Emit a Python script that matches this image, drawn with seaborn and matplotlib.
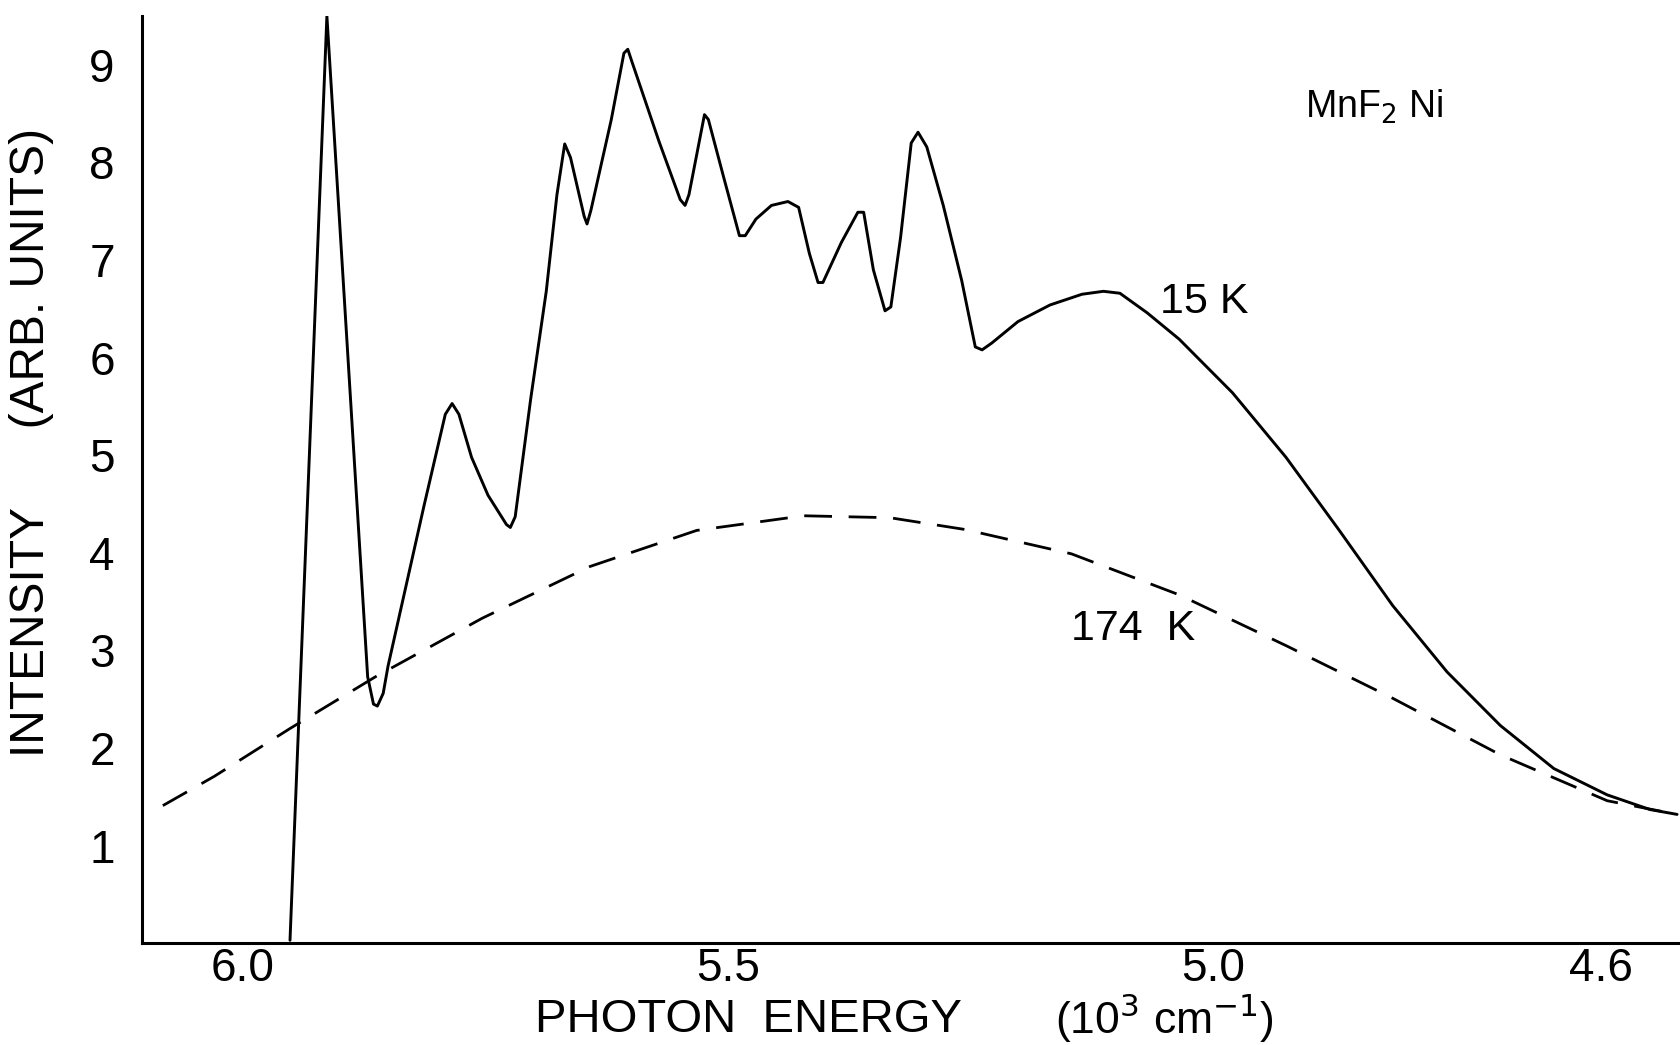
import matplotlib
matplotlib.use("Agg")
import matplotlib.pyplot as plt
import seaborn as sns
import pandas as pd

# 15 K spectrum (photon energy in 10^3 cm^-1, intensity arb. units)
energy_15K = [5.951, 5.913, 5.871, 5.865, 5.861, 5.855, 5.850, 5.813, 5.791, 5.784,
              5.777, 5.764, 5.747, 5.728, 5.724, 5.719, 5.703, 5.687, 5.676, 5.668,
              5.662, 5.648, 5.645, 5.641, 5.620, 5.607, 5.603, 5.599, 5.571, 5.549,
              5.544, 5.540, 5.524, 5.520, 5.504, 5.488, 5.482, 5.471, 5.455, 5.438,
              5.427, 5.416, 5.407, 5.402, 5.383, 5.366, 5.360, 5.350, 5.338, 5.332,
              5.322, 5.311, 5.304, 5.295, 5.278, 5.259, 5.245, 5.238, 5.228, 5.201,
              5.168, 5.135, 5.113, 5.096, 5.068, 5.035, 4.980, 4.925, 4.870, 4.815,
              4.759, 4.704, 4.649, 4.594, 4.550, 4.522]
intensity_15K = [0.03, 9.50, 2.73, 2.45, 2.43, 2.56, 2.84, 4.48, 5.42, 5.53,
                 5.42, 4.98, 4.59, 4.29, 4.26, 4.37, 5.58, 6.68, 7.67, 8.19,
                 8.05, 7.45, 7.37, 7.51, 8.44, 9.12, 9.16, 9.04, 8.22, 7.62,
                 7.56, 7.67, 8.49, 8.44, 7.84, 7.25, 7.25, 7.42, 7.56, 7.60,
                 7.54, 7.07, 6.77, 6.77, 7.18, 7.49, 7.49, 6.90, 6.48, 6.52,
                 7.23, 8.20, 8.31, 8.16, 7.56, 6.79, 6.11, 6.08, 6.15, 6.37,
                 6.54, 6.65, 6.68, 6.66, 6.46, 6.19, 5.64, 4.98, 4.23, 3.46,
                 2.78, 2.23, 1.79, 1.52, 1.37, 1.32]

# 174 K spectrum
energy_174K = [6.082, 6.029, 5.951, 5.863, 5.753, 5.642, 5.532, 5.422, 5.333,
               5.256, 5.146, 5.035, 4.925, 4.815, 4.704, 4.594, 4.522]
intensity_174K = [1.41, 1.71, 2.20, 2.73, 3.33, 3.86, 4.23, 4.38, 4.36,
                  4.24, 3.99, 3.57, 3.05, 2.51, 1.93, 1.46, 1.32]

x_ticks = [6.0, 5.5, 5.0, 4.6]
x_ticklabels = ["6.0", "5.5", "5.0", "4.6"]
y_ticks = [1, 2, 3, 4, 5, 6, 7, 8, 9]
y_ticklabels = ["1", "2", "3", "4", "5", "6", "7", "8", "9"]

sns.set_theme(style="white")
plt.rcParams["font.family"] = ["Liberation Sans", "DejaVu Sans"]

fig = plt.figure(figsize=(16.8, 10.45), dpi=100)
ax = fig.add_axes([0.0848, 0.0974, 0.9152, 0.8872])

df15 = pd.DataFrame({"E": energy_15K, "I": intensity_15K})
df174 = pd.DataFrame({"E": energy_174K, "I": intensity_174K})

sns.lineplot(data=df15, x="E", y="I", sort=False, estimator=None,
             color="black", linewidth=2.1, ax=ax)
sns.lineplot(data=df174, x="E", y="I", sort=False, estimator=None,
             color="black", linewidth=2.0, ax=ax)
ax.lines[-1].set_linestyle((0, (10, 6)))

ax.set_xlim(6.103, 4.519)
ax.set_ylim(0, 9.5)

for s in ["top", "right"]:
    ax.spines[s].set_visible(False)
for s in ["left", "bottom"]:
    ax.spines[s].set_linewidth(2.2)
    ax.spines[s].set_color("black")

ax.set_xticks(x_ticks)
ax.set_xticklabels(x_ticklabels)
ax.set_yticks(y_ticks)
ax.set_yticklabels(y_ticklabels)
ax.tick_params(axis="both", direction="in", length=20, width=1.8,
               color="black", labelsize=33, labelcolor="black")
ax.tick_params(axis="x", pad=3)
ax.tick_params(axis="y", pad=20)

ax.set_xlabel("")
ax.set_ylabel("")
fig.text(0.019, 0.577, "INTENSITY      (ARB. UNITS)", rotation=90,
         ha="center", va="center", fontsize=34.5, color="black")
fig.text(0.4458, 0.0125, "PHOTON  ENERGY",
         ha="center", va="baseline", fontsize=34, color="black")
fig.text(0.6930, 0.0110, "(10$^3$ cm$^{-1}$)",
         ha="center", va="baseline", fontsize=32, color="black")

ax.text(4.905, 8.46, "MnF$_2$ Ni", ha="left", va="baseline", fontsize=27, color="black")
ax.text(5.055, 6.46, "15 K", ha="left", va="baseline", fontsize=31, color="black")
ax.text(5.146, 3.11, "174  K", ha="left", va="baseline", fontsize=31, color="black")

fig.savefig("out.png", dpi=100)
